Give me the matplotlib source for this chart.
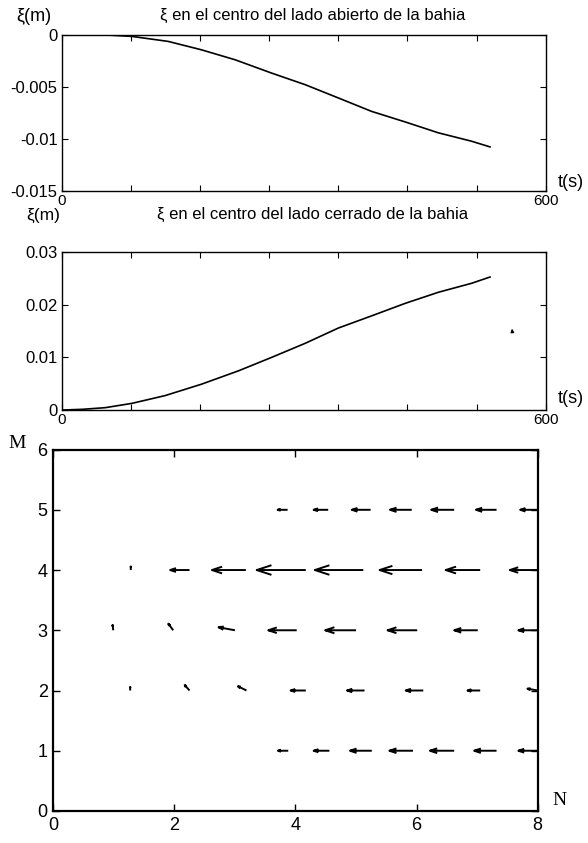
import numpy as np
import matplotlib
matplotlib.use("Agg")
import matplotlib.pyplot as plt

plt.rcParams['font.family'] = ['Liberation Sans', 'DejaVu Sans']

# xi at the centre of the open side of the bay
t_open = [0, 50, 87, 132, 173, 215, 260, 302, 343, 384, 426, 467, 508, 531]
xi_open = [0, 0, -0.00016, -0.00064, -0.00144, -0.0024, -0.00367, -0.00479,
           -0.00606, -0.00734, -0.00836, -0.0094, -0.0102, -0.01075]

# xi at the centre of the closed side of the bay
t_closed = [0, 25, 54, 87, 128, 173, 219, 260, 302, 343, 384, 426, 467, 508, 531]
xi_closed = [0, 0.00013, 0.00045, 0.00127, 0.00274, 0.0049, 0.00745, 0.01,
             0.0127, 0.0156, 0.0179, 0.0203, 0.0224, 0.0241, 0.0253]

# velocity field, one list per row M
quiv_N = {
    5: [8.0, 7.32, 6.62, 5.92, 5.24, 4.54, 3.87],
    4: [8.0, 7.05, 6.09, 5.12, 4.17, 3.18, 2.25, 1.28],
    3: [8.0, 7.01, 6.01, 5.0, 4.02, 3.0, 1.98, 0.99],
    2: [8.0, 7.05, 6.11, 5.14, 4.17, 3.19, 2.25, 1.27],
    1: [8.0, 7.32, 6.62, 5.94, 5.26, 4.56, 3.88],
}
quiv_U = {
    5: [-0.29, -0.34, -0.38, -0.36, -0.31, -0.24, -0.165],
    4: [-0.46, -0.57, -0.70, -0.80, -0.81, -0.56, -0.32, 0.0],
    3: [-0.32, -0.39, -0.49, -0.51, -0.47, -0.27, -0.08, -0.01],
    2: [-0.17, -0.21, -0.29, -0.29, -0.25, -0.14, -0.08, 0.0],
    1: [-0.32, -0.37, -0.40, -0.39, -0.36, -0.26, -0.17],
}
quiv_V = {
    5: [0, 0, 0, 0, 0, 0, 0],
    4: [0, 0, 0, 0, 0, 0, 0, 0.06],
    3: [0, 0, 0, 0, 0, 0.05, 0.11, 0.09],
    2: [0.03, 0, 0, 0, 0, 0.07, 0.09, 0.06],
    1: [0, 0, 0, 0, 0, 0, 0],
}

t_ticks = np.linspace(0, 600, 8)
t_labels = ['0', '', '', '', '', '', '', '600']

fig = plt.figure(figsize=(5.88, 8.43), dpi=100)


def style_time_axes(ax):
    ax.set_xlim(0, 600)
    ax.set_xticks(t_ticks)
    ax.set_xticklabels(t_labels)
    ax.tick_params(direction='in', top=True, right=True, length=4,
                   labelsize=12, pad=3, width=0.8)
    ax.tick_params(axis='x', labelsize=11, pad=2)
    for s in ax.spines.values():
        s.set_linewidth(1.0)


def matlab_quiver(ax, x, y, u, v, alpha=0.3, beta=0.33):
    # arrows drawn like the old matlab quiver: shaft plus two head strokes
    xs, ys = [], []
    for x0, y0, u0, v0 in zip(x, y, u, v):
        x1, y1 = x0 + u0, y0 + v0
        xs += [x0, x1, np.nan]
        ys += [y0, y1, np.nan]
        xs += [x1 - alpha * (u0 + beta * v0), x1,
               x1 - alpha * (u0 - beta * v0), np.nan]
        ys += [y1 - alpha * (v0 - beta * u0), y1,
               y1 - alpha * (v0 + beta * u0), np.nan]
    ax.plot(xs, ys, color='k', lw=1.4, solid_capstyle='butt')


# top panel
ax1 = fig.add_axes([0.105, 0.7731, 0.823, 0.1857])
ax1.plot(t_open, xi_open, color='k', lw=1.2)
ax1.set_ylim(-0.015, 0)
ax1.set_yticks([-0.015, -0.01, -0.005, 0])
ax1.set_yticklabels(['-0.015', '-0.01', '-0.005', '0'])
style_time_axes(ax1)
fig.text(0.531, 0.982, u'\u03be en el centro del lado abierto de la bahia',
         fontsize=12, ha='center', va='center')
fig.text(0.057, 0.981, u'\u03be(m)', fontsize=13, ha='center', va='center')
fig.text(0.948, 0.784, 't(s)', fontsize=13, ha='left', va='center')

# middle panel
ax2 = fig.add_axes([0.105, 0.5136, 0.823, 0.1871])
ax2.plot(t_closed, xi_closed, color='k', lw=1.2)
ax2.set_ylim(0, 0.03)
ax2.set_yticks([0, 0.01, 0.02, 0.03])
ax2.set_yticklabels(['0', '0.01', '0.02', '0.03'])
style_time_axes(ax2)
ax2.annotate('', xy=(558, 0.0160), xytext=(559, 0.0142),
             arrowprops=dict(arrowstyle='-|>', lw=0.8, color='k',
                             mutation_scale=5))
fig.text(0.531, 0.746, u'\u03be en el centro del lado cerrado de la bahia',
         fontsize=12, ha='center', va='center')
fig.text(0.073, 0.744, u'\u03be(m)', fontsize=12.5, ha='center', va='center')
fig.text(0.948, 0.527, 't(s)', fontsize=13, ha='left', va='center')

# quiver panel
ax3 = fig.add_axes([0.0906, 0.0380, 0.8239, 0.4287])
for m in quiv_N:
    Y = [float(m)] * len(quiv_N[m])
    matlab_quiver(ax3, quiv_N[m], Y, quiv_U[m], quiv_V[m])
ax3.set_xlim(0, 8)
ax3.set_ylim(0, 6)
ax3.set_xticks([0, 2, 4, 6, 8])
ax3.set_yticks([0, 1, 2, 3, 4, 5, 6])
ax3.tick_params(direction='in', top=True, right=True, length=5,
                labelsize=13, pad=4, width=1)
for s in ax3.spines.values():
    s.set_linewidth(1.6)
fig.text(0.029, 0.474, 'M', fontsize=14, family='Liberation Serif',
         ha='center', va='center')
fig.text(0.952, 0.051, 'N', fontsize=14, family='Liberation Serif',
         ha='center', va='center')

fig.savefig('out.png', dpi=100)
